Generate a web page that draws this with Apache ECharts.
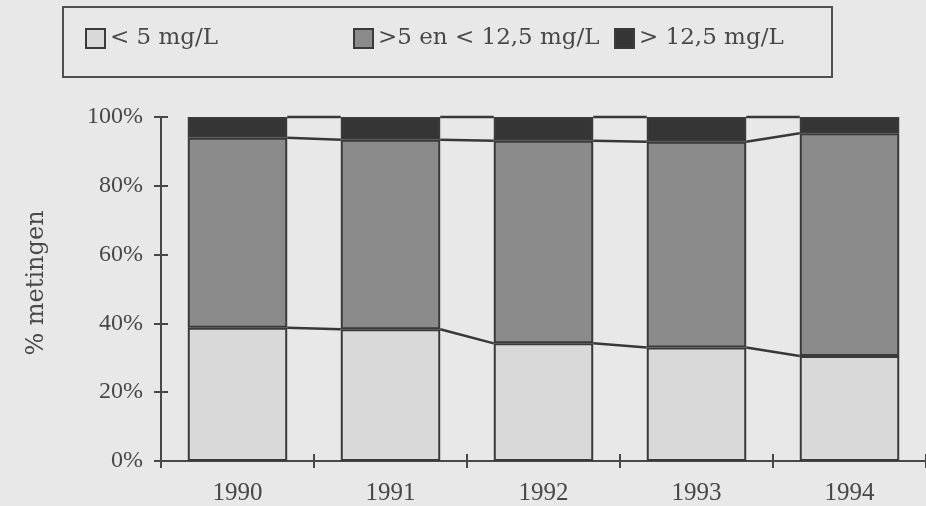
<!DOCTYPE html>
<html>
<head>
<meta charset="utf-8">
<script src="https://cdn.jsdelivr.net/npm/echarts@6/dist/echarts.min.js"></script>
<style>
  html, body { margin: 0; padding: 0; background: #e8e8e8; }
  #chart { width: 926px; height: 506px; }
</style>
</head>
<body>
<div id="chart"></div>
<script>
// Years on the category axis
const years = ['1990', '1991', '1992', '1993', '1994'];

// Share of measurements per concentration class (percent, each year sums to 100)
const below5 = [38.7, 38.3, 34.2, 33.0, 30.5];
const from5to12 = [55.3, 55.1, 58.9, 59.8, 64.8];
const above12 = [6.0, 6.6, 6.9, 7.2, 4.7];

// Series names shown in the legend
const seriesNames = ['< 5 mg/L', '>5 en < 12,5 mg/L', '> 12,5 mg/L'];

// Y-axis tick values
const yTicks = [0, 20, 40, 60, 80, 100];

const BAR_FRACTION = 0.65;
const INK = '#484848';
const FONT = 'DejaVu Serif';
const NUM_FONT = 'Liberation Serif';

// Cumulative boundaries used by the connector lines between neighbouring bars
const lowTop = below5.slice();
const midTop = below5.map((v, i) => v + from5to12[i]);
const fullTop = midTop.map((v, i) => v + above12[i]);

const connectorData = [];
for (let i = 0; i < years.length - 1; i++) {
  connectorData.push([i, lowTop[i], lowTop[i + 1], midTop[i], midTop[i + 1], fullTop[i], fullTop[i + 1]]);
}

function renderConnectors(params, api) {
  const i = api.value(0);
  const band = api.size([1, 0])[0];
  const half = band * BAR_FRACTION / 2;
  const children = [];
  for (let k = 0; k < 3; k++) {
    const a = api.coord([i, api.value(1 + 2 * k)]);
    const b = api.coord([i + 1, api.value(2 + 2 * k)]);
    children.push({
      type: 'line',
      shape: { x1: a[0] + half, y1: a[1], x2: b[0] - half, y2: b[1] },
      style: { stroke: '#383838', lineWidth: 2.5 }
    });
  }
  return { type: 'group', children: children };
}

const barStyle = (color) => ({
  color: color,
  borderColor: '#3a3a3a',
  borderWidth: 2
});

const legendBase = {
  top: 27,
  padding: 0,
  icon: 'rect',
  itemWidth: 19,
  itemHeight: 19,
  itemGap: 0,
  textStyle: { fontFamily: FONT, fontSize: 23, color: INK },
  selectedMode: false
};

const chart = echarts.init(document.getElementById('chart'), null, { renderer: 'canvas' });

chart.setOption({
  backgroundColor: '#e8e8e8',
  animation: false,
  graphic: [{
    type: 'rect',
    shape: { x: 63, y: 7, width: 769, height: 70 },
    style: { fill: 'none', stroke: '#505050', lineWidth: 2 },
    silent: true
  }],
  legend: [
    Object.assign({}, legendBase, { left: 85, data: [seriesNames[0]] }),
    Object.assign({}, legendBase, { left: 353, data: [seriesNames[1]] }),
    Object.assign({}, legendBase, { left: 614, data: [seriesNames[2]] })
  ],
  grid: { left: 161, right: 0, top: 117, bottom: 45, containLabel: false },
  xAxis: [{
    type: 'category',
    data: years,
    boundaryGap: true,
    axisLine: { show: true, lineStyle: { color: INK, width: 2 } },
    axisTick: { show: true, inside: false, length: 7, lineStyle: { color: INK, width: 2 } },
    axisLabel: { fontFamily: NUM_FONT, fontSize: 25, color: INK, margin: 20 }
  }, {
    type: 'category',
    data: years,
    position: 'bottom',
    boundaryGap: true,
    axisLine: { show: false },
    axisTick: { show: true, inside: true, length: 7, lineStyle: { color: INK, width: 2 } },
    axisLabel: { show: false }
  }],
  yAxis: [{
    type: 'value',
    min: yTicks[0],
    max: yTicks[yTicks.length - 1],
    interval: yTicks[1] - yTicks[0],
    name: '% metingen',
    nameLocation: 'middle',
    nameGap: 112,
    nameTextStyle: { fontFamily: FONT, fontSize: 24, color: INK, padding: [0, 0, 0, 12] },
    axisLine: { show: true, lineStyle: { color: INK, width: 2 } },
    axisTick: { show: true, inside: false, length: 7, lineStyle: { color: INK, width: 2 } },
    axisLabel: { fontFamily: NUM_FONT, fontSize: 24, color: INK, margin: 18, formatter: '{value}%' },
    splitLine: { show: false }
  }, {
    type: 'value',
    min: yTicks[0],
    max: yTicks[yTicks.length - 1],
    interval: yTicks[1] - yTicks[0],
    position: 'left',
    axisLine: { show: false },
    axisTick: { show: true, inside: true, length: 7, lineStyle: { color: INK, width: 2 } },
    axisLabel: { show: false },
    splitLine: { show: false }
  }],
  series: [
    {
      name: seriesNames[0], type: 'bar', stack: 'share', data: below5,
      barWidth: (BAR_FRACTION * 100) + '%', itemStyle: barStyle('#d9d9d9')
    },
    {
      name: seriesNames[1], type: 'bar', stack: 'share', data: from5to12,
      barWidth: (BAR_FRACTION * 100) + '%', itemStyle: barStyle('#8b8b8b')
    },
    {
      name: seriesNames[2], type: 'bar', stack: 'share', data: above12,
      barWidth: (BAR_FRACTION * 100) + '%', itemStyle: barStyle('#353535')
    },
    {
      type: 'custom',
      renderItem: renderConnectors,
      data: connectorData,
      z: 5,
      silent: true
    }
  ]
});
</script>
</body>
</html>
